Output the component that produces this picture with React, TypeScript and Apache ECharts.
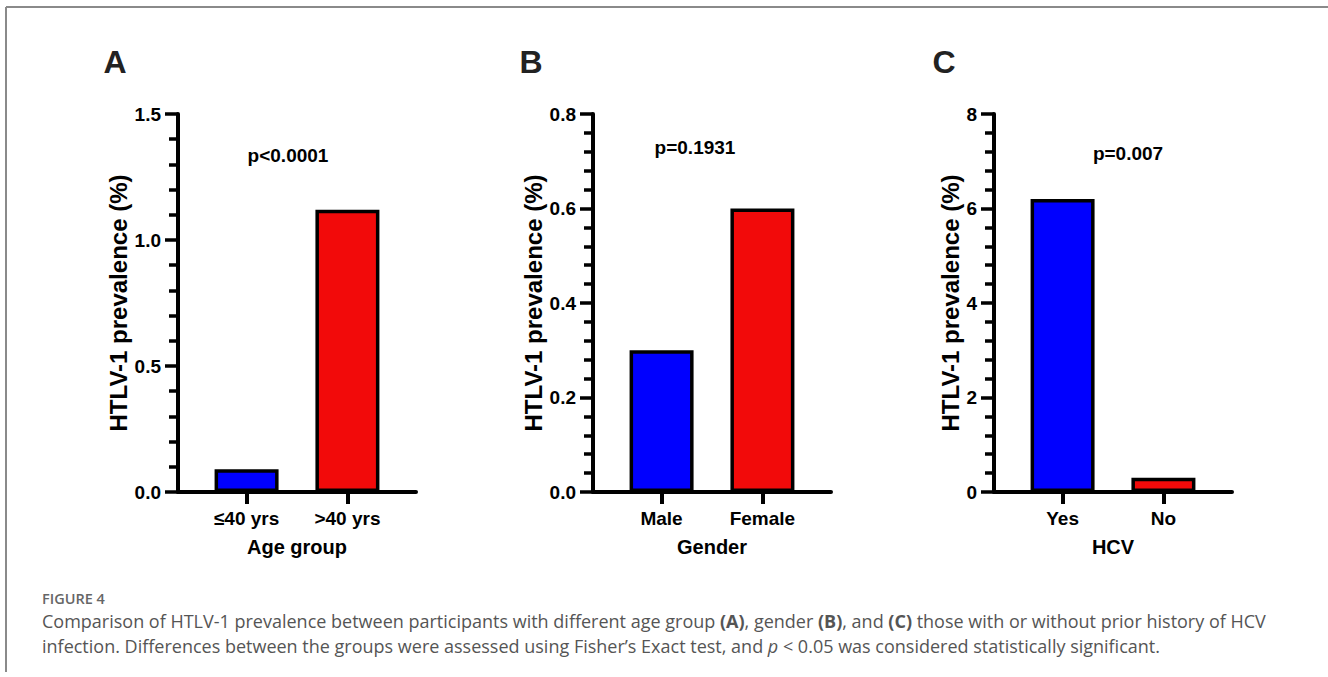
import React, { useEffect, useRef } from "react";
import * as echarts from "echarts";

const panelLetters = ["A", "B", "C"];
const categoriesA = ["≤40 yrs", ">40 yrs"];
const valuesA = [0.09, 1.12];
const categoriesB = ["Male", "Female"];
const valuesB = [0.3, 0.6];
const categoriesC = ["Yes", "No"];
const valuesC = [6.2, 0.3];
const yMaxes = [1.5, 0.8, 8];
const yIntervals = [0.5, 0.2, 2];
const yDecimals = [1, 1, 0];
const pValues = ["p<0.0001", "p=0.1931", "p=0.007"];
const xNames = ["Age group", "Gender", "HCV"];
const yName = "HTLV-1 prevalence (%)";
const barColors = ["#0000FF", "#F20A0A"];
const captionLabel = "FIGURE 4";
const captionLine1 =
  "Comparison of HTLV-1 prevalence between participants with different age group {b|(A)}, gender {b|(B)}, and {b|(C)} those with or without prior history of HCV";
const captionLine2 =
  "infection. Differences between the groups were assessed using Fisher’s Exact test, and {i|p} < 0.05 was considered statistically significant.";

const FONT = "'Liberation Sans', Arial, sans-serif";
const CAP_FONT = "'Open Sans', 'Noto Sans', sans-serif";

const allCategories = [categoriesA, categoriesB, categoriesC];
const allValues = [valuesA, valuesB, valuesC];

const gridLefts = [178, 593, 994];
const gridTop = 114;
const gridWidth = 238;
const gridHeight = 378;
const yNameGaps = [47, 47, 30];
const pCenters = [
  [288, 155],
  [695, 147],
  [1128, 153],
];
const letterCenters = [
  [115, 62],
  [531, 62],
  [944, 62],
];

export default function App() {
  const ref = useRef<HTMLDivElement>(null);
  useEffect(() => {
    if (!ref.current) return;
    const chart = echarts.init(ref.current, null, { renderer: "svg" });
    const grids = gridLefts.map((l) => ({
      left: l,
      top: gridTop,
      width: gridWidth,
      height: gridHeight,
      containLabel: false,
    }));
    const xAxes = allCategories.map((cats, i) => ({
      type: "value",
      gridIndex: i,
      min: 0.32,
      max: 2.68,
      name: xNames[i],
      nameLocation: "middle",
      nameGap: 45,
      nameTextStyle: { fontFamily: FONT, fontWeight: "bold", fontSize: 20, color: "#000" },
      splitLine: { show: false },
      axisLine: { show: true, lineStyle: { color: "#000", width: 4 } },
      axisTick: {
        show: true,
        customValues: [1, 2],
        length: 12,
        lineStyle: { color: "#000", width: 4 },
      },
      axisLabel: {
        customValues: [1, 2],
        formatter: (v: number) => cats[Math.round(v) - 1] ?? "",
        margin: 17,
        fontFamily: FONT,
        fontWeight: "bold",
        fontSize: 19,
        color: "#000",
      },
    }));
    const yAxes = yMaxes.map((mx, i) => ({
      type: "value",
      gridIndex: i,
      min: 0,
      max: mx,
      interval: yIntervals[i],
      name: yName,
      nameLocation: "middle",
      nameGap: yNameGaps[i],
      nameTextStyle: { fontFamily: FONT, fontWeight: "bold", fontSize: 24, color: "#000" },
      splitLine: { show: false },
      axisLine: { show: true, lineStyle: { color: "#000", width: 4 } },
      axisTick: { show: true, length: 13, lineStyle: { color: "#000", width: 3.5 } },
      minorTick: { show: true, splitNumber: 5, length: 9, lineStyle: { color: "#000", width: 3.5 } },
      axisLabel: {
        margin: 17,
        formatter: (v: number) => v.toFixed(yDecimals[i]),
        fontFamily: FONT,
        fontWeight: "bold",
        fontSize: 19,
        color: "#000",
      },
    }));
    const series = allValues.map((vals, i) => ({
      type: "bar",
      xAxisIndex: i,
      yAxisIndex: i,
      barWidth: 64,
      data: vals.map((v, j) => ({
        value: [j + 1, v],
        itemStyle: { color: barColors[j], borderColor: "#000", borderWidth: 3.5 },
      })),
    }));
    const graphics: any[] = [
      { type: "line", shape: { x1: 6, y1: 7, x2: 1328, y2: 7 }, style: { stroke: "#8a8a8a", lineWidth: 2 } },
      { type: "line", shape: { x1: 6, y1: 7, x2: 6, y2: 672 }, style: { stroke: "#8a8a8a", lineWidth: 2 } },
    ];
    panelLetters.forEach((l, i) => {
      graphics.push({
        type: "text",
        x: letterCenters[i][0],
        y: letterCenters[i][1],
        style: {
          text: l,
          font: `bold 32px ${FONT}`,
          fill: "#222",
          align: "center",
          verticalAlign: "middle",
        },
      });
      graphics.push({
        type: "text",
        x: pCenters[i][0],
        y: pCenters[i][1],
        style: {
          text: pValues[i],
          font: `bold 19px ${FONT}`,
          fill: "#000",
          align: "center",
          verticalAlign: "middle",
        },
      });
    });
    graphics.push({
      type: "text",
      x: 42,
      y: 598,
      style: { text: captionLabel, font: `600 14.5px ${CAP_FONT}`, fill: "#666", verticalAlign: "middle" },
    });
    const rich = {
      b: { fontFamily: CAP_FONT, fontSize: 18, fontWeight: "bold", fill: "#555" },
      i: { fontFamily: CAP_FONT, fontSize: 18, fontStyle: "italic", fill: "#555" },
    };
    graphics.push({
      type: "text",
      x: 42,
      y: 621,
      style: { text: captionLine1, font: `18px ${CAP_FONT}`, fill: "#555", verticalAlign: "middle", rich },
    });
    graphics.push({
      type: "text",
      x: 42,
      y: 646,
      style: { text: captionLine2, font: `18px ${CAP_FONT}`, fill: "#555", verticalAlign: "middle", rich },
    });
    chart.setOption({
      animation: false,
      backgroundColor: "#fff",
      grid: grids,
      xAxis: xAxes,
      yAxis: yAxes,
      series,
      graphic: graphics,
    });
    return () => chart.dispose();
  }, []);
  return (
    <div
      ref={ref}
      style={{ position: "fixed", left: 0, top: 0, width: 1328, height: 677 }}
    />
  );
}
